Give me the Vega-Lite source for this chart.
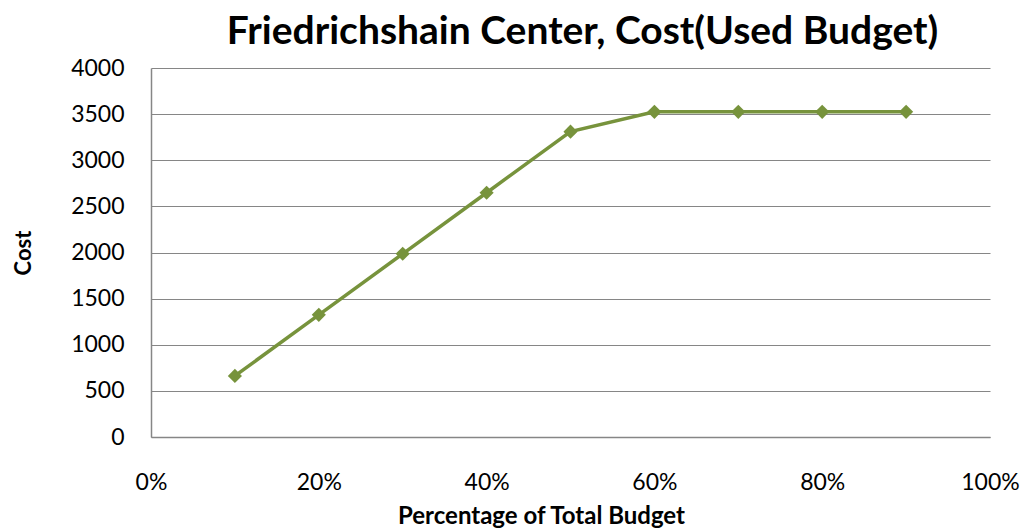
{
  "$schema": "https://vega.github.io/schema/vega-lite/v6.json",
  "width": 839,
  "height": 369,
  "autosize": "none",
  "padding": {"left": 151, "top": 68, "right": 38, "bottom": 94},
  "background": "white",
  "title": {
    "text": "Friedrichshain Center, Cost(Used Budget)",
    "font": "Lato",
    "fontSize": 39,
    "fontWeight": "bold",
    "color": "#000000",
    "anchor": "middle",
    "dx": 12,
    "offset": 5
  },
  "config": {
    "view": {"stroke": null},
    "axis": {
      "labelFont": "Lato",
      "titleFont": "Lato",
      "labelColor": "#000000",
      "titleColor": "#000000",
      "domainColor": "#868686",
      "gridColor": "#868686",
      "ticks": false,
      "tickSize": 0
    }
  },
  "data": {
    "values": [
      {"pct": 0.1, "cost": 662},
      {"pct": 0.2, "cost": 1324},
      {"pct": 0.3, "cost": 1986},
      {"pct": 0.4, "cost": 2648},
      {"pct": 0.5, "cost": 3310},
      {"pct": 0.6, "cost": 3525},
      {"pct": 0.7, "cost": 3525},
      {"pct": 0.8, "cost": 3525},
      {"pct": 0.9, "cost": 3525}
    ]
  },
  "mark": {
    "type": "line",
    "color": "#77933C",
    "strokeWidth": 3.5,
    "point": {"shape": "diamond", "size": 200, "filled": true, "color": "#77933C", "opacity": 1}
  },
  "encoding": {
    "x": {
      "field": "pct",
      "type": "quantitative",
      "scale": {"domain": [0, 1], "nice": false},
      "axis": {
        "title": "Percentage of Total Budget",
        "values": [0, 0.2, 0.4, 0.6, 0.8, 1],
        "format": ".0%",
        "grid": false,
        "labelFlush": false,
        "labelFontSize": 23,
        "labelPadding": 34,
        "titleFontSize": 24,
        "titleFontWeight": "bold",
        "titlePadding": 10,
        "titleX": 390,
        "domainWidth": 1.5
      }
    },
    "y": {
      "field": "cost",
      "type": "quantitative",
      "scale": {"domain": [0, 4000], "nice": false},
      "axis": {
        "title": "Cost",
        "values": [0, 500, 1000, 1500, 2000, 2500, 3000, 3500, 4000],
        "format": "d",
        "grid": true,
        "gridWidth": 1.2,
        "labelFontSize": 23,
        "labelPadding": 27,
        "titleFontSize": 22,
        "titleFontWeight": "bold",
        "titlePadding": 35,
        "domainWidth": 1.5
      }
    }
  }
}
